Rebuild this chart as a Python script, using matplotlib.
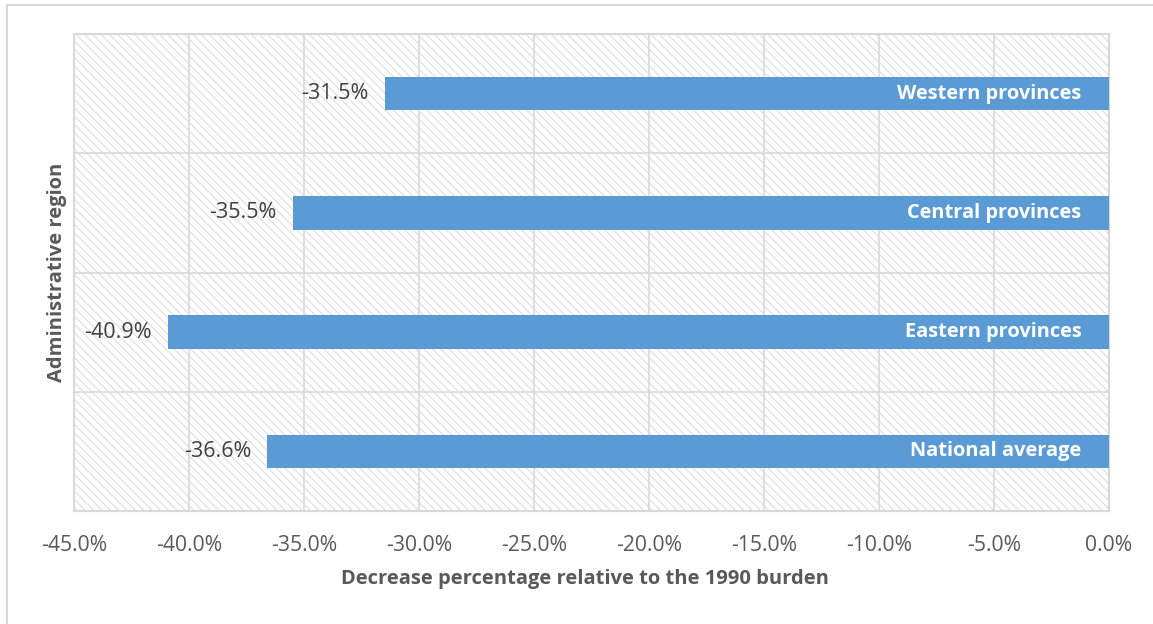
import matplotlib.pyplot as plt
from matplotlib.patches import Rectangle
from matplotlib.ticker import FuncFormatter

regions = ["National average", "Eastern provinces", "Central provinces", "Western provinces"]
decrease = [-36.6, -40.9, -35.5, -31.5]
xticks = [-45, -40, -35, -30, -25, -20, -15, -10, -5, 0]

BAR = "#5b9bd5"
GRID = "#d9d9d9"
TXT = "#595959"

plt.rcParams["font.family"] = ["Open Sans", "DejaVu Sans"]
plt.rcParams["hatch.linewidth"] = 0.6

W, H = 1153, 624
fig = plt.figure(figsize=(W / 100, H / 100), dpi=100)
fig.patches.append(Rectangle((7 / W, -0.1), 1.2, 1.1 - 5 / H,
                             transform=fig.transFigure, fill=False,
                             edgecolor=GRID, linewidth=1.5))
ax = fig.add_axes([74 / W, 1 - 511 / H, 1035 / W, 477 / H])

# light diagonal hatch behind the plot area
ax.add_patch(Rectangle((0, 0), 1, 1, transform=ax.transAxes, facecolor="white",
                       hatch="\\" * 4, edgecolor="#d4d4d4", linewidth=0, zorder=0))

y = range(len(regions))
ax.barh(y, decrease, height=0.28, color=BAR, zorder=3)
ax.set_xlim(-45, 0)
ax.set_ylim(-0.5, len(regions) - 0.5)
ax.set_xticks(xticks)
ax.xaxis.set_major_formatter(FuncFormatter(lambda v, p: f"{v:.1f}%"))
ax.set_yticks([i + 0.5 for i in range(len(regions) - 1)])
ax.set_yticklabels([])
ax.tick_params(axis="both", length=0, labelsize=15.2, labelcolor=TXT)
ax.tick_params(axis="x", pad=17)
ax.grid(True, color=GRID, linewidth=1.2, zorder=1)
ax.set_axisbelow(True)
for s in ax.spines.values():
    s.set_color(GRID)
    s.set_linewidth(1.5)

for i, (name, val) in enumerate(zip(regions, decrease)):
    ax.text(val - 0.7, i, f"{val:.1f}%", ha="right", va="center",
            fontsize=15.5, color="#404040", zorder=4)
    ax.text(-1.2, i, name, ha="right", va="center", fontsize=14.4,
            fontweight="bold", color="white", zorder=4)

fig.text(585 / W, 1 - 579 / H, "Decrease percentage relative to the 1990 burden",
         ha="center", va="center", fontsize=14.5, fontweight="bold", color=TXT)
fig.text(57 / W, 1 - 272 / H, "Administrative region", rotation=90,
         ha="center", va="center", fontsize=14.5, fontweight="bold", color=TXT)

fig.savefig("out.png", dpi=100)
